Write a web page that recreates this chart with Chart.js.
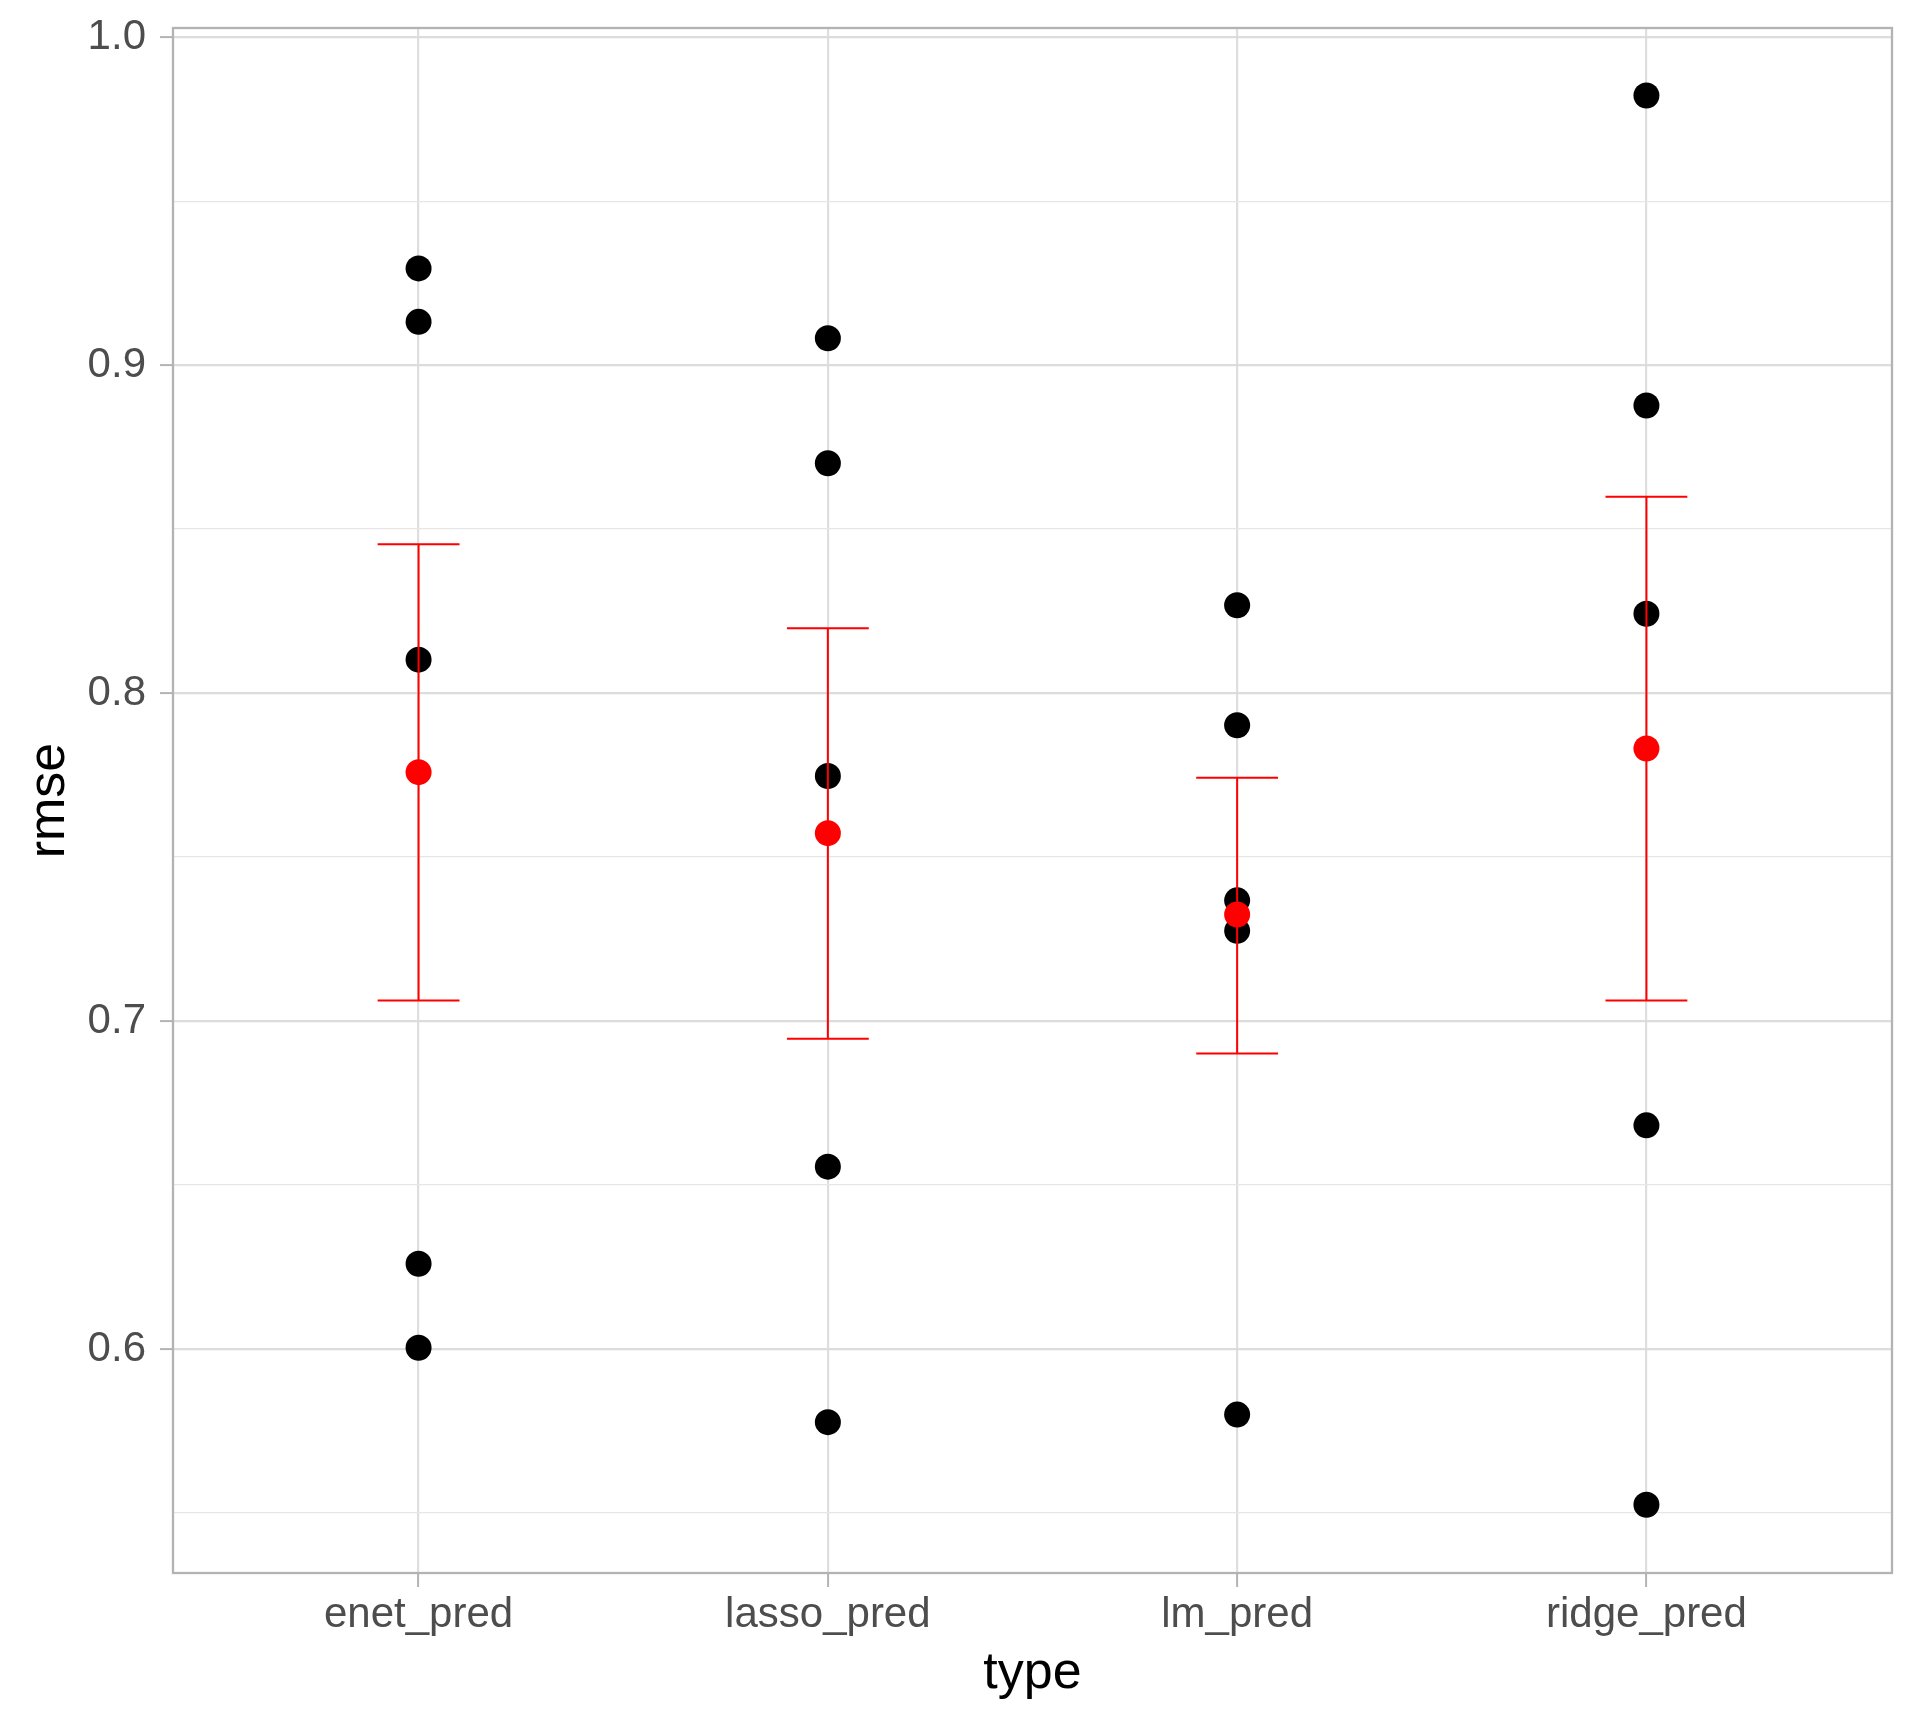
<!DOCTYPE html>
<html>
<head>
<meta charset="utf-8">
<script src="https://cdn.jsdelivr.net/npm/chart.js@4.4.1/dist/chart.umd.min.js"></script>
<style>
  html, body { margin: 0; padding: 0; background: #ffffff; overflow: hidden; }
  canvas { display: block; }
</style>
</head>
<body>
<canvas id="c" width="1920" height="1728"></canvas>
<script>
// ---- data ----
const categories = ["enet_pred", "lasso_pred", "lm_pred", "ridge_pred"];
const enetRmse  = [0.9295, 0.9132, 0.8102, 0.6260, 0.6004];
const lassoRmse = [0.9082, 0.8701, 0.7747, 0.6556, 0.5777];
const lmRmse    = [0.8268, 0.7902, 0.7368, 0.7275, 0.5800];
const ridgeRmse = [0.9822, 0.8877, 0.8242, 0.6682, 0.5525];
const meanRmse  = [0.7759, 0.7573, 0.7325, 0.7831];
const errLow    = [0.7063, 0.6946, 0.6901, 0.7063];
const errHigh   = [0.8454, 0.8198, 0.7742, 0.8599];
const yMajorTicks = [0.6, 0.7, 0.8, 0.9, 1.0];
const yTickLabels = ["0.6", "0.7", "0.8", "0.9", "1.0"];
const yMinorTicks = [0.55, 0.65, 0.75, 0.85, 0.95];
const xTickValues = [1, 2, 3, 4];

const rmseByType = [enetRmse, lassoRmse, lmRmse, ridgeRmse];
const CAP_HALF = 0.1;

const pointData = [];
rmseByType.forEach((vals, i) => vals.forEach(v => pointData.push({ x: i + 1, y: v })));

const meanData = meanRmse.map((v, i) => ({ x: i + 1, y: v }));

const errData = [];
categories.forEach((c, i) => {
  const x = i + 1;
  errData.push({ x: x - CAP_HALF, y: errHigh[i] }, { x: x + CAP_HALF, y: errHigh[i] }, { x: x, y: null });
  errData.push({ x: x, y: errHigh[i] }, { x: x, y: errLow[i] }, { x: x, y: null });
  errData.push({ x: x - CAP_HALF, y: errLow[i] }, { x: x + CAP_HALF, y: errLow[i] }, { x: x, y: null });
});

const isMajor = v => yMajorTicks.some(t => Math.abs(t - v) < 1e-9);
const FONT = "'Liberation Sans', Arial, Helvetica, sans-serif";

const panelBorder = {
  id: 'panelBorder',
  afterDatasetsDraw(chart) {
    const { ctx, chartArea: a } = chart;
    ctx.save();
    ctx.strokeStyle = '#b3b3b3';
    ctx.lineWidth = 2.3;
    ctx.strokeRect(a.left, a.top, a.right - a.left, a.bottom - a.top);
    ctx.restore();
  }
};

new Chart(document.getElementById('c'), {
  type: 'scatter',
  data: {
    datasets: [
      {
        label: 'mean',
        data: meanData,
        backgroundColor: '#ff0000',
        borderColor: '#ff0000',
        pointRadius: 13,
        pointHoverRadius: 13,
        borderWidth: 0,
        order: 0
      },
      {
        label: 'error',
        data: errData,
        showLine: true,
        spanGaps: false,
        borderColor: '#ff0000',
        borderWidth: 2,
        pointRadius: 0,
        pointHoverRadius: 0,
        borderCapStyle: 'butt',
        order: 1
      },
      {
        label: 'rmse',
        data: pointData,
        backgroundColor: '#000000',
        borderColor: '#000000',
        pointRadius: 13,
        pointHoverRadius: 13,
        borderWidth: 0,
        order: 2
      }
    ]
  },
  options: {
    responsive: false,
    devicePixelRatio: 1,
    animation: false,
    layout: { padding: { top: 28, right: 28, left: 0, bottom: 0 } },
    plugins: { legend: { display: false }, tooltip: { enabled: false } },
    scales: {
      x: {
        type: 'linear',
        min: 0.4,
        max: 4.6,
        afterBuildTicks: sc => { sc.ticks = xTickValues.map(v => ({ value: v })); },
        afterFit: sc => { sc.height = 155; sc.paddingLeft = 0; sc.paddingRight = 0; },
        ticks: {
          autoSkip: false,
          maxRotation: 0,
          padding: 3,
          color: '#4d4d4d',
          font: { family: FONT, size: 42 },
          callback: v => categories[Math.round(v) - 1]
        },
        grid: {
          color: '#dedede',
          lineWidth: 2.2,
          tickLength: 14,
          tickColor: '#b3b3b3',
          tickWidth: 2
        },
        border: { display: false },
        title: {
          display: true,
          text: 'type',
          color: '#000000',
          font: { family: FONT, size: 52 },
          padding: { top: 0, bottom: 23 }
        }
      },
      y: {
        type: 'linear',
        min: 0.5317,
        max: 1.0028,
        afterBuildTicks: sc => {
          sc.ticks = yMajorTicks.concat(yMinorTicks).sort((a, b) => a - b).map(v => ({ value: v }));
        },
        afterFit: sc => { sc.width = 173; sc.paddingTop = 0; sc.paddingBottom = 0; },
        ticks: {
          autoSkip: false,
          padding: 14,
          color: '#4d4d4d',
          font: { family: FONT, size: 42 },
          callback: v => {
            const idx = yMajorTicks.findIndex(t => Math.abs(t - v) < 1e-9);
            return idx >= 0 ? yTickLabels[idx] : '';
          }
        },
        grid: {
          color: ctx => (ctx.tick && isMajor(ctx.tick.value)) ? '#dcdcdc' : '#e6e6e6',
          lineWidth: ctx => (ctx.tick && isMajor(ctx.tick.value)) ? 2.2 : 1.3,
          tickLength: 13,
          tickColor: ctx => (ctx.tick && isMajor(ctx.tick.value)) ? '#b3b3b3' : 'rgba(0,0,0,0)',
          tickWidth: 2
        },
        border: { display: false },
        title: {
          display: true,
          text: 'rmse',
          color: '#000000',
          font: { family: FONT, size: 52 },
          padding: { top: 18, bottom: 0 }
        }
      }
    }
  },
  plugins: [panelBorder]
});
</script>
</body>
</html>
